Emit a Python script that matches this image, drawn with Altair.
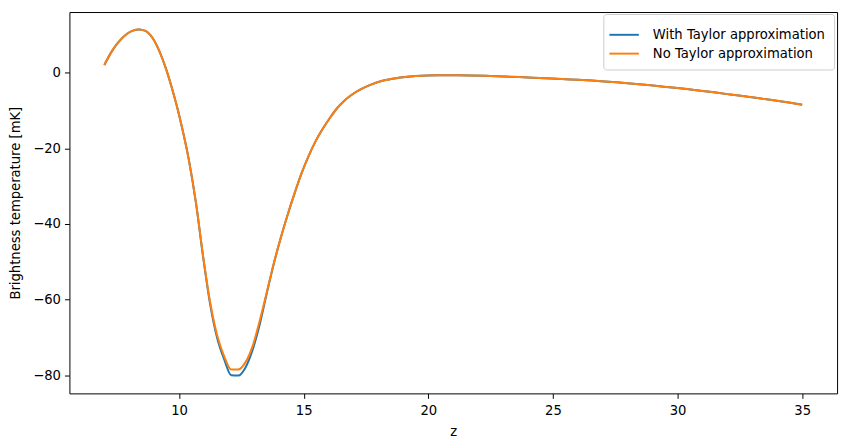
import altair as alt
import pandas as pd

# redshift samples
z_vals = [7.0, 7.3, 7.55, 7.9, 8.15, 8.4, 8.65, 8.95, 9.2, 9.5, 9.7, 9.9, 10.1, 10.39,
          10.68, 10.96, 11.24, 11.53, 11.81, 12.09, 12.37, 12.66, 12.94, 13.22, 13.51,
          13.79, 14.07, 14.36, 14.64, 14.92, 15.2, 15.49, 15.77, 16.05, 16.33, 16.62,
          16.9, 17.3, 17.7, 18.2, 18.8, 19.5, 20.4, 21.2, 22.5, 24.0, 26.0, 28.0, 30.0,
          32.0, 33.5, 35.0]

# brightness temperature [mK], with Taylor approximation
t_taylor = [2.0, 5.6, 7.9, 10.2, 11.1, 11.4, 11.0, 9.0, 5.8, 0.5, -3.8, -8.6, -14.0, -23.0,
            -34.6, -48.5, -61.0, -70.2, -75.8, -80.0, -80.1, -78.0, -73.5, -67.0, -58.6,
            -50.8, -43.9, -37.5, -31.8, -26.5, -22.0, -18.0, -14.8, -12.0, -9.5, -7.5,
            -6.0, -4.4, -3.2, -2.1, -1.4, -0.9, -0.7, -0.7, -0.9, -1.3, -1.9, -2.8, -4.1,
            -5.7, -7.0, -8.5]

# brightness temperature [mK], no Taylor approximation
t_exact = [2.0, 5.6, 7.9, 10.2, 11.1, 11.4, 11.0, 9.0, 5.8, 0.5, -3.8, -8.6, -14.0, -23.0,
           -34.5, -48.3, -60.5, -69.5, -75.0, -78.5, -78.5, -76.6, -72.5, -66.0, -58.3,
           -50.7, -43.9, -37.5, -31.8, -26.5, -22.0, -18.0, -14.8, -12.0, -9.5, -7.5,
           -6.0, -4.4, -3.2, -2.1, -1.4, -0.9, -0.7, -0.7, -0.9, -1.3, -1.9, -2.8, -4.1,
           -5.7, -7.0, -8.5]

series_names = ["With Taylor approximation", "No Taylor approximation"]
series_colors = ["#1f77b4", "#ff7f0e"]
x_ticks = [10, 15, 20, 25, 30, 35]
y_ticks = [-80, -60, -40, -20, 0]

df_a = pd.DataFrame({"z": z_vals, "T": t_taylor, "series": series_names[0]})
df_b = pd.DataFrame({"z": z_vals, "T": t_exact, "series": series_names[1]})

FONT = "DejaVu Sans"

x_enc = alt.X("z:Q", title="z",
              scale=alt.Scale(domain=[5.6, 36.4], nice=False, zero=False),
              axis=alt.Axis(values=x_ticks, format="d", grid=False, domain=False,
                            tickSize=5, tickColor="black", labelColor="black",
                            labelFontSize=13.3, titleFontSize=13.3, labelFont=FONT,
                            titleFont=FONT, titleFontWeight="normal", labelPadding=5,
                            titlePadding=8, titleColor="black"))
y_enc = alt.Y("T:Q", title="Brightness temperature [mK]",
              scale=alt.Scale(domain=[-84.8, 16.0], nice=False, zero=False),
              axis=alt.Axis(values=y_ticks, format="d", grid=False, domain=False,
                            tickSize=5, tickColor="black", labelColor="black",
                            labelFontSize=13.3, titleFontSize=13.3, labelFont=FONT,
                            titleFont=FONT, titleFontWeight="normal", labelPadding=4,
                            titlePadding=10, titleColor="black"))
color_enc = alt.Color("series:N",
                      scale=alt.Scale(domain=series_names, range=series_colors),
                      legend=alt.Legend(orient="none", legendX=539, legendY=2, title=None,
                                        symbolType="M-1.35,0H1.35", symbolSize=484,
                                        symbolStrokeWidth=2, labelFontSize=13.3,
                                        labelFont=FONT, labelColor="black", padding=9,
                                        strokeColor="#cccccc", fillColor="rgba(255,255,255,0.8)",
                                        cornerRadius=3, labelOffset=17, rowPadding=0,
                                        labelLimit=400))

line_a = alt.Chart(df_a).mark_line(strokeWidth=2, interpolate="monotone").encode(
    x=x_enc, y=y_enc, color=color_enc)
line_b = alt.Chart(df_b).mark_line(strokeWidth=2, interpolate="monotone").encode(
    x=x_enc, y=y_enc, color=color_enc)

chart = alt.layer(line_a, line_b).properties(
    width=775, height=385,
    autosize=alt.AutoSizeParams(type="none"),
    padding={"left": 62, "top": 2, "right": 8, "bottom": 45},
).configure(background="white").configure_view(stroke="black", strokeWidth=1)

chart.save("out.html", embed_options={"renderer": "svg", "actions": False})
